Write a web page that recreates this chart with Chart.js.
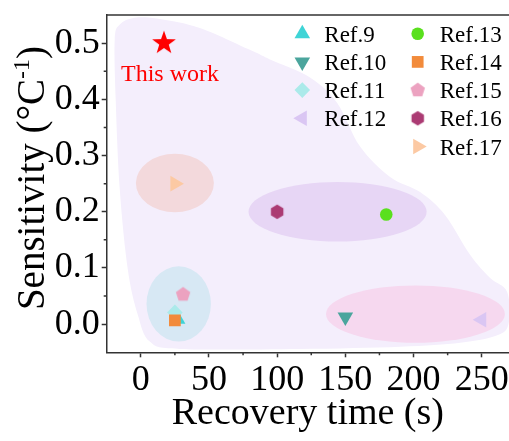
<!DOCTYPE html>
<html>
<head>
<meta charset="utf-8">
<script src="https://cdn.jsdelivr.net/npm/chart.js@4"></script>
<style>
  html, body { margin: 0; padding: 0; background: #fff; overflow: hidden; }
</style>
</head>
<body>
<canvas id="chart" width="509" height="441"></canvas>
<script>
// data
const refNames = ["Ref.9", "Ref.10", "Ref.11", "Ref.12", "Ref.13", "Ref.14", "Ref.15", "Ref.16", "Ref.17"];
const recoveryTime = [27, 150, 25, 250, 180, 25, 31, 100, 25];
const sensitivity = [0.009, 0.013, 0.021, 0.008, 0.195, 0.007, 0.053, 0.2, 0.25];
const thisWorkTime = [17];
const thisWorkSens = [0.5];

const xTicks = [0, 50, 100, 150, 200, 250];
const xMinorTicks = [25, 75, 125, 175, 225];
const yTicks = [0, 0.1, 0.2, 0.3, 0.4, 0.5];
const yMinorTicks = [0.05, 0.15, 0.25, 0.35, 0.45];

// shaded background region outline (recovery time, sensitivity)
const regionTime = [-19.1, -15.4, -4.4, 14.0, 43.3, 80.0, 94.7, 124.1, 143.9, 160.8, 182.8, 204.8, 223.2,
  241.6, 256.2, 268.7, 269.5, 259.9, 234.2, 190.2, 116.7, 28.6, 6.6, -2.2, -9.5, -15.4, -18.4];
const regionSens = [0.506, 0.533, 0.545, 0.543, 0.527, 0.488, 0.471, 0.439, 0.394, 0.316, 0.262, 0.235, 0.194,
  0.123, 0.082, 0.057, -0.001, -0.021, -0.033, -0.04, -0.044, -0.044, -0.031, 0.017, 0.097, 0.239, 0.399];

// group ellipses: centre and half sizes in data units
const groupTime = [25, 27.8, 144.3, 201.4];
const groupSens = [0.251, 0.036, 0.2, 0.018];
const groupTimeHalf = [28.6, 23.6, 65.3, 65.6];
const groupSensHalf = [0.052, 0.067, 0.053, 0.051];

// styles
const groupColors = ["#f3d9dc", "#d7e8f4", "#e7d6f5", "#f6d8ef"];
const regionColor = "#f4eefc";
const refColors = ["#3fd4d6", "#4ba59d", "#abeaea", "#dac6f3", "#5ae01e", "#f28b3b", "#eca2c0", "#ab3b73", "#fcc9a3"];
const serif = "'Liberation Serif', 'Times New Roman', serif";

function polyCanvas(n, r, color, inner) {
    const size = Math.ceil(r) * 2 + 2;
    const c = document.createElement("canvas");
    c.width = size;
    c.height = size;
    const g = c.getContext("2d");
    const k = inner ? n * 2 : n;
    g.beginPath();
    for (let i = 0; i < k; i++) {
        const a = -Math.PI / 2 + (i * 2 * Math.PI) / k;
        const rr = inner && i % 2 ? inner : r;
        const px = size / 2 + rr * Math.cos(a);
        const py = size / 2 + rr * Math.sin(a);
        if (i === 0) g.moveTo(px, py);
        else g.lineTo(px, py);
    }
    g.closePath();
    g.fillStyle = color;
    g.fill();
    return c;
}

const starImg = polyCanvas(5, 12.5, "#ff0000", 5);
const pentagonImg = polyCanvas(5, 7.6, refColors[6]);
const hexagonImg = polyCanvas(6, 7.2, refColors[7]);

const refStyles = ["triangle", "triangle", "rectRot", "triangle", "circle", "rect", pentagonImg, hexagonImg, "triangle"];
const refRotation = [0, 180, 0, -90, 0, 0, 0, 0, 90];
const refRadius = [9, 9, 7.8, 9, 6.3, 8.3, 8, 8, 9];

const datasets = refNames.map(function (name, i) {
    return {
        label: name,
        data: [{ x: recoveryTime[i], y: sensitivity[i] }],
        pointStyle: refStyles[i],
        pointRotation: refRotation[i],
        pointRadius: refRadius[i],
        pointBackgroundColor: refColors[i],
        pointBorderWidth: 0,
        order: -i,
    };
});
datasets.push({
    label: "This work",
    data: thisWorkTime.map((t, i) => ({ x: t, y: thisWorkSens[i] })),
    pointStyle: starImg,
    pointRadius: 12,
    pointBackgroundColor: "#ff0000",
    pointBorderWidth: 0,
    order: -20,
});

// background region, group ellipses, extra axis bits, legend
const decor = {
    id: "decor",
    beforeDatasetsDraw(chart) {
        const { ctx, chartArea, scales } = chart;
        const x = scales.x, y = scales.y;
        ctx.save();
        ctx.beginPath();
        ctx.rect(chartArea.left, chartArea.top, chartArea.width, chartArea.height);
        ctx.clip();

        const pts = regionTime.map((t, i) => [x.getPixelForValue(t), y.getPixelForValue(regionSens[i])]);
        const n = pts.length;
        ctx.beginPath();
        ctx.moveTo(pts[0][0], pts[0][1]);
        for (let i = 0; i < n; i++) {
            const p0 = pts[(i - 1 + n) % n], p1 = pts[i], p2 = pts[(i + 1) % n], p3 = pts[(i + 2) % n];
            ctx.bezierCurveTo(
                p1[0] + (p2[0] - p0[0]) / 6, p1[1] + (p2[1] - p0[1]) / 6,
                p2[0] - (p3[0] - p1[0]) / 6, p2[1] - (p3[1] - p1[1]) / 6,
                p2[0], p2[1]
            );
        }
        ctx.closePath();
        ctx.fillStyle = regionColor;
        ctx.fill();

        groupTime.forEach(function (t, i) {
            const cx = x.getPixelForValue(t);
            const cy = y.getPixelForValue(groupSens[i]);
            const rx = Math.abs(x.getPixelForValue(t + groupTimeHalf[i]) - cx);
            const ry = Math.abs(y.getPixelForValue(groupSens[i] + groupSensHalf[i]) - cy);
            ctx.beginPath();
            ctx.ellipse(cx, cy, rx, ry, 0, 0, Math.PI * 2);
            ctx.fillStyle = groupColors[i];
            ctx.fill();
        });
        ctx.restore();
    },
    afterDraw(chart) {
        const { ctx, chartArea, scales } = chart;
        const x = scales.x, y = scales.y;
        ctx.save();
        ctx.strokeStyle = "#333";
        ctx.lineWidth = 1.5;
        // top frame line
        ctx.beginPath();
        ctx.moveTo(chartArea.left, chartArea.top);
        ctx.lineTo(chartArea.right, chartArea.top);
        ctx.stroke();
        // minor ticks
        ctx.beginPath();
        xMinorTicks.forEach(function (v) {
            const px = x.getPixelForValue(v);
            ctx.moveTo(px, chartArea.bottom);
            ctx.lineTo(px, chartArea.bottom + 3);
        });
        yMinorTicks.forEach(function (v) {
            const py = y.getPixelForValue(v);
            ctx.moveTo(chartArea.left, py);
            ctx.lineTo(chartArea.left - 3, py);
        });
        ctx.stroke();

        // y axis title with superscript
        ctx.fillStyle = "#000";
        ctx.translate(44, 178);
        ctx.rotate(-Math.PI / 2);
        const big = "39px " + serif, small = "24px " + serif;
        ctx.font = big;
        const w1 = ctx.measureText("Sensitivity (\u00b0C").width;
        const w3 = ctx.measureText(")").width;
        ctx.font = small;
        const w2 = ctx.measureText("-1").width;
        let u = -(w1 + w2 + w3) / 2;
        ctx.textBaseline = "alphabetic";
        ctx.textAlign = "left";
        ctx.font = big;
        ctx.fillText("Sensitivity (\u00b0C", u, 0);
        u += w1;
        ctx.font = small;
        ctx.fillText("-1", u, -15);
        u += w2;
        ctx.font = big;
        ctx.fillText(")", u, 0);
        ctx.restore();

        // "This work" label
        ctx.save();
        ctx.fillStyle = "#ff0000";
        ctx.font = "24px " + serif;
        ctx.textAlign = "center";
        ctx.textBaseline = "middle";
        ctx.fillText("This work", x.getPixelForValue(thisWorkTime[0]) + 6, y.getPixelForValue(thisWorkSens[0]) + 32);
        ctx.restore();

        // legend in two columns
        ctx.save();
        ctx.font = "23px " + serif;
        ctx.fillStyle = "#000";
        ctx.textBaseline = "alphabetic";
        refNames.forEach(function (name, i) {
            const col = i < 4 ? 0 : 1;
            const row = col === 0 ? i : i - 4;
            const mx = col === 0 ? 302.3 : 417.7;
            const my = 33.7 + row * 28.2;
            ctx.fillStyle = refColors[i];
            Chart.helpers.drawPoint(ctx, {
                pointStyle: refStyles[i],
                rotation: refRotation[i],
                radius: refRadius[i],
                borderWidth: 0,
            }, mx, my);
            ctx.fillStyle = "#000";
            ctx.fillText(name, mx + 22, my + 8);
        });
        ctx.restore();
    },
};

new Chart(document.getElementById("chart"), {
    type: "scatter",
    data: { datasets: datasets },
    options: {
        responsive: false,
        animation: false,
        devicePixelRatio: 1,
        layout: { autoPadding: false, padding: { top: 15, right: 0, left: 0, bottom: 0 } },
        plugins: { legend: { display: false }, tooltip: { enabled: false } },
        scales: {
            x: {
                type: "linear",
                min: -25,
                max: 270,
                afterBuildTicks: (s) => { s.ticks = xTicks.map((v) => ({ value: v })); },
                afterFit: (s) => {
                    s.height = 88.7;
                    s.paddingLeft = 0;
                    s.paddingRight = 0;
                },
                grid: { drawOnChartArea: false, drawTicks: true, tickLength: 5, tickWidth: 1.5, tickColor: "#333" },
                border: { display: true, color: "#333", width: 1.5 },
                ticks: { font: { family: serif, size: 36 }, color: "#000", padding: 2, maxRotation: 0 },
                title: {
                    display: true,
                    text: "Recovery time (s)",
                    font: { family: serif, size: 38 },
                    color: "#000",
                    padding: { top: 0, bottom: 4 },
                },
            },
            y: {
                type: "linear",
                min: -0.05,
                max: 0.55,
                afterBuildTicks: (s) => { s.ticks = yTicks.map((v) => ({ value: v })); },
                afterFit: (s) => {
                    s.width = 106.7;
                    s.paddingTop = 0;
                    s.paddingBottom = 0;
                },
                grid: { drawOnChartArea: false, drawTicks: true, tickLength: 5, tickWidth: 1.5, tickColor: "#333" },
                border: { display: true, color: "#333", width: 1.5 },
                ticks: {
                    font: { family: serif, size: 36 },
                    color: "#000",
                    padding: 2,
                    callback: (v) => Number(v).toFixed(1),
                },
            },
        },
    },
    plugins: [decor],
});
</script>
</body>
</html>
